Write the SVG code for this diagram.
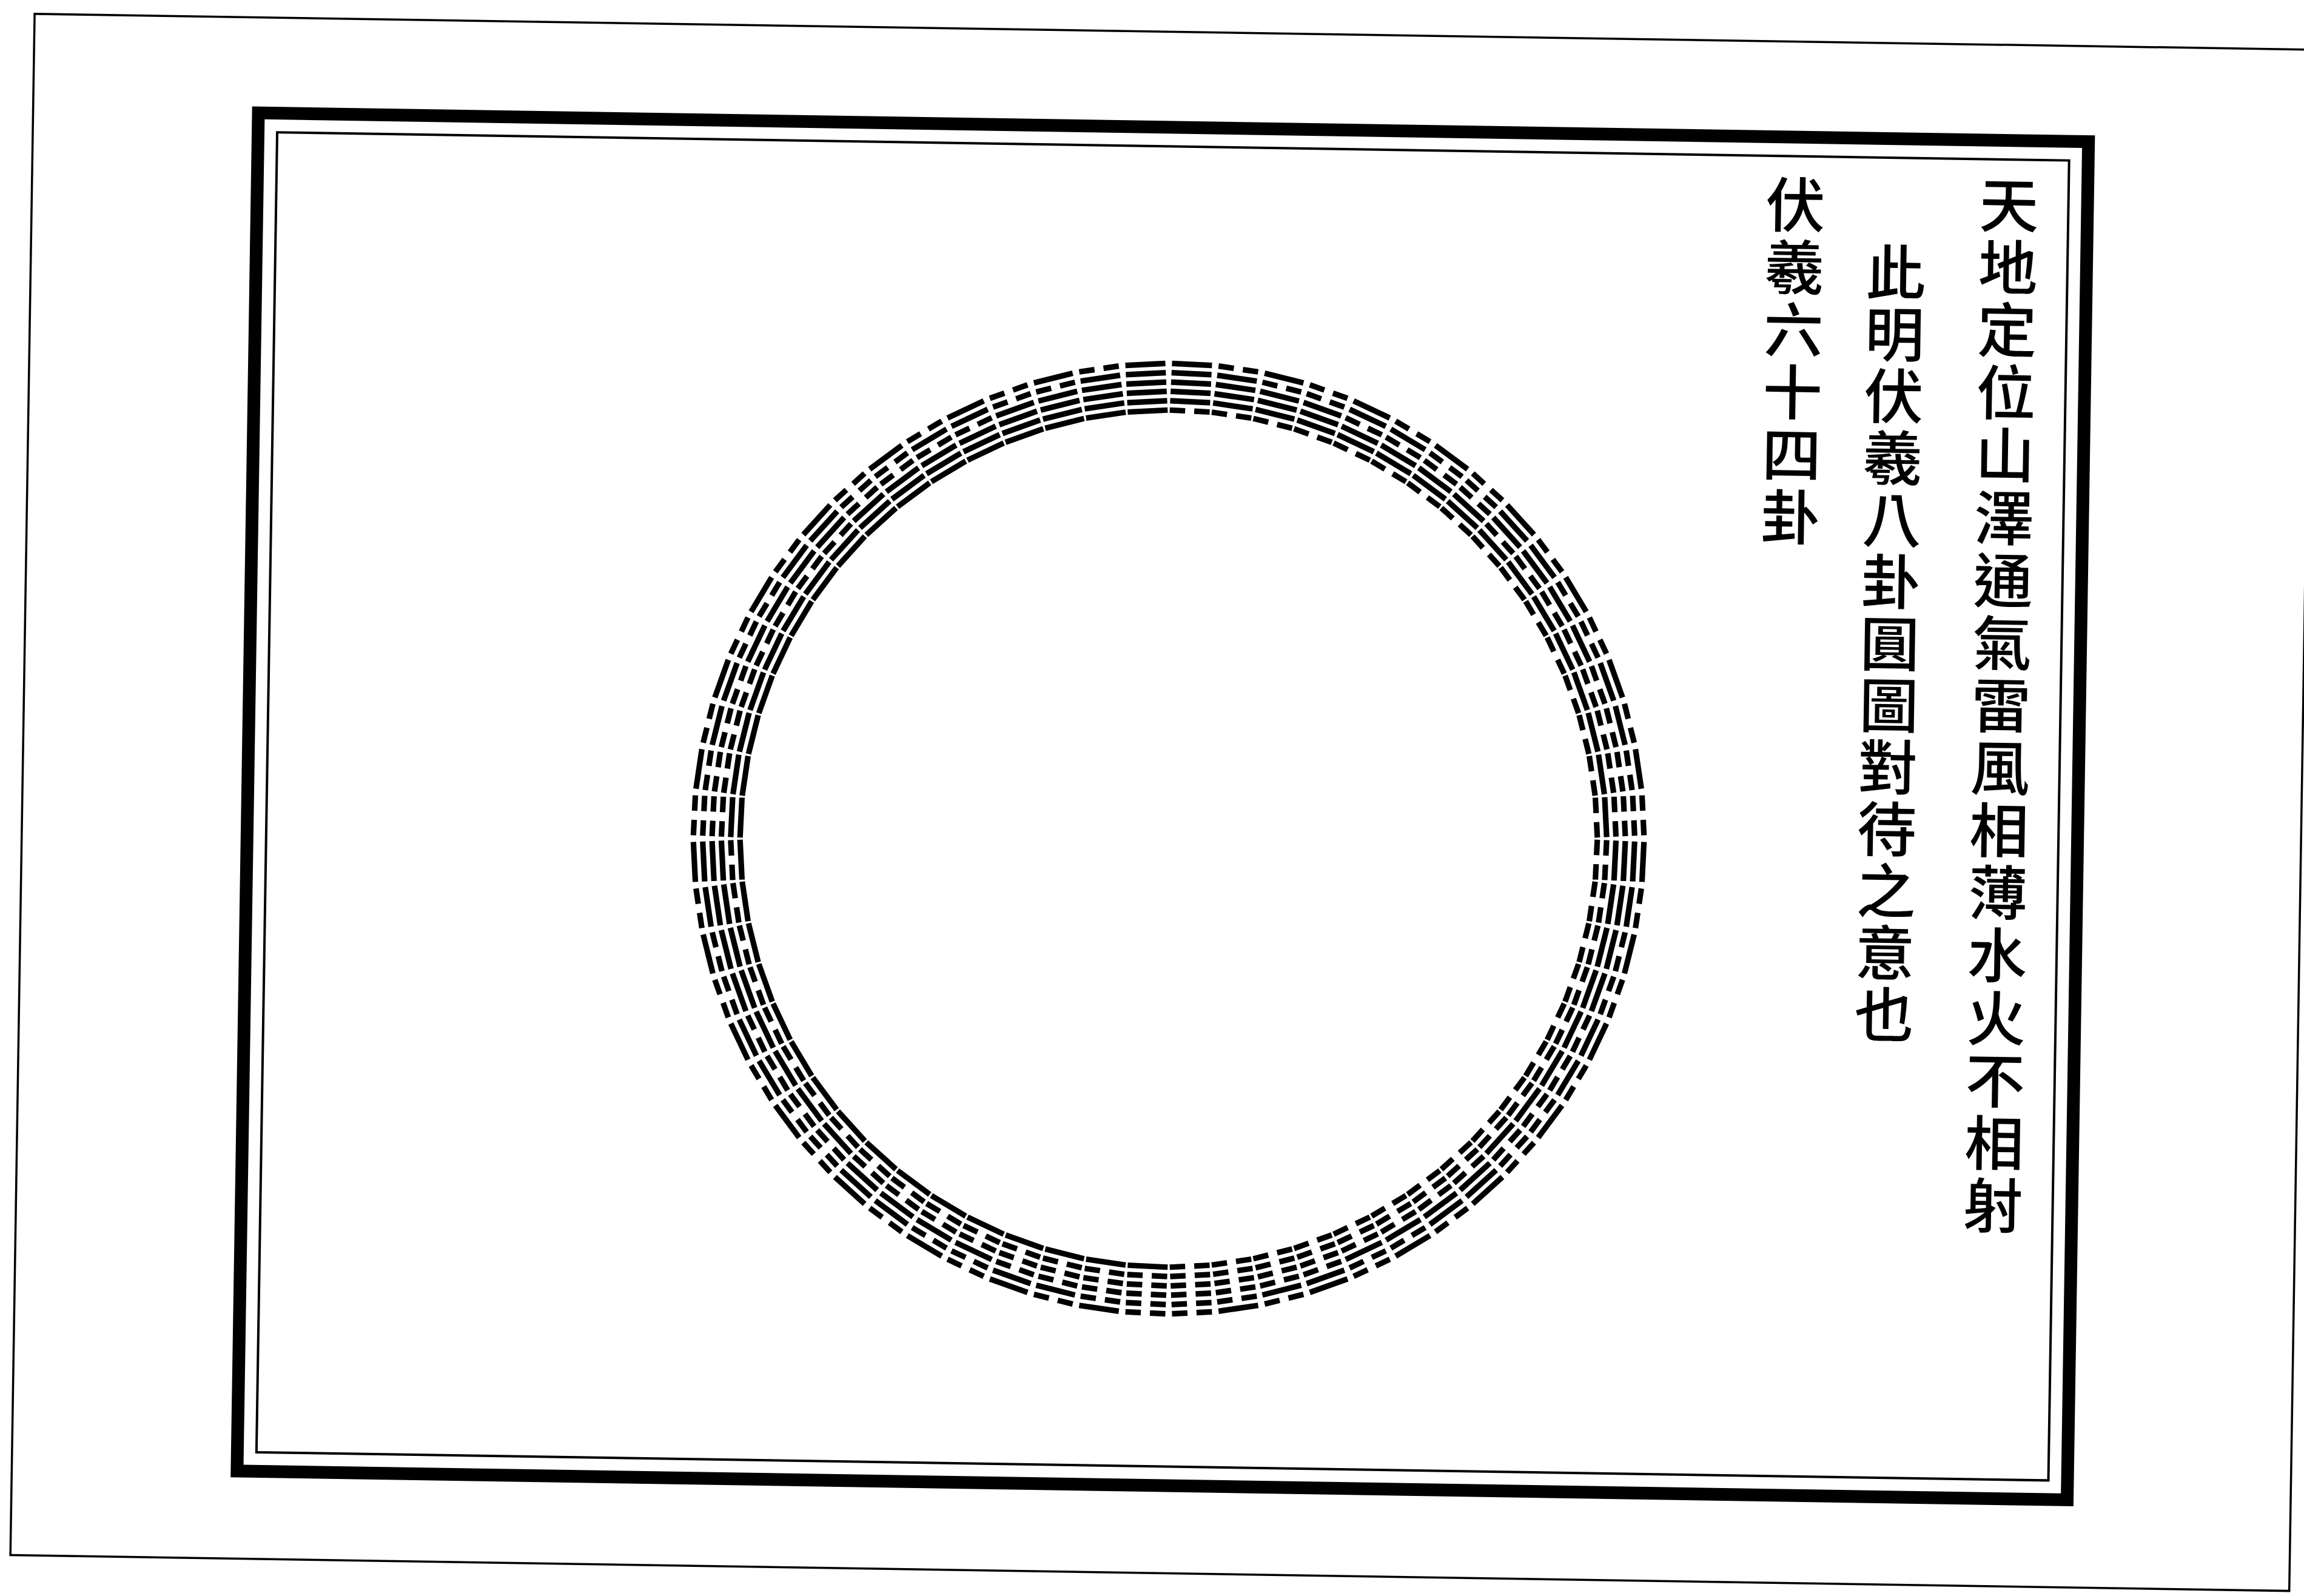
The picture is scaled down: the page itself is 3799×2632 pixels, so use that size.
<svg xmlns="http://www.w3.org/2000/svg" width="3799" height="2632" viewBox="0 0 3799 2632">
<style>
.ln{fill:none;stroke:#000;stroke-width:9.2}
.txt{font-family:"Noto Sans CJK TC","Noto Sans CJK SC",sans-serif;font-size:98px;font-weight:500;fill:#000;text-anchor:middle;dominant-baseline:central}
.page{fill:none;stroke:#000;stroke-width:3.5}
.frame{fill:none;stroke:#000;stroke-width:21}
.inner{fill:none;stroke:#000;stroke-width:4}
</style>
<defs>
<path id="a" d="M-33 0H33"/>
<path id="b" d="M-33 0H-7.5M7.5 0H33"/>
<g id="t0"><use href="#a"/><use href="#a" y="-15.4"/><use href="#a" y="-30.8"/></g>
<g id="t1"><use href="#a"/><use href="#a" y="-15.4"/><use href="#b" y="-30.8"/></g>
<g id="t2"><use href="#a"/><use href="#b" y="-15.4"/><use href="#a" y="-30.8"/></g>
<g id="t3"><use href="#a"/><use href="#b" y="-15.4"/><use href="#b" y="-30.8"/></g>
<g id="t4"><use href="#b"/><use href="#a" y="-15.4"/><use href="#a" y="-30.8"/></g>
<g id="t5"><use href="#b"/><use href="#a" y="-15.4"/><use href="#b" y="-30.8"/></g>
<g id="t6"><use href="#b"/><use href="#b" y="-15.4"/><use href="#a" y="-30.8"/></g>
<g id="t7"><use href="#b"/><use href="#b" y="-15.4"/><use href="#b" y="-30.8"/></g>
</defs>
<rect width="3799" height="2632" fill="#fff"/>
<g transform="rotate(0.9 1900 1316)">
<g id="page-border"><rect class="page" x="37" y="52" width="3758" height="2542"/></g>
<g id="frame"><rect class="frame" x="408.5" y="209.5" width="3018" height="2240"/><rect class="inner" x="440" y="241" width="2955" height="2177"/></g>
<g id="connectors"></g>
<g id="text-col-1"><text class="txt" x="3297 3297 3297 3297 3297 3297 3297 3297 3297 3297 3297 3297 3297 3297 3297 3297 3297" y="310 413 516 619 722 826 929 1032 1135 1238 1341 1444 1547 1651 1754 1857 1960">天地定位山澤通氣雷風相薄水火不相射</text></g>
<g id="text-col-2"><text class="txt" x="3112 3112 3112 3112 3112 3112 3112 3112 3112 3112 3112 3112 3112" y="424 526 628 730 832 934 1036 1138 1240 1342 1444 1546 1648">此明伏羲八卦圓圖對待之意也</text></g>
<g id="text-col-3"><text class="txt" x="2945 2945 2945 2945 2945 2945" y="315 418 521 624 727 830">伏羲六十四卦</text></g>
</g>
<g id="hexagram-circle" class="ln" transform="translate(1927 1383)">
<g id="hex-qian" transform="rotate(-2.8125)"><use href="#t0" y="-706"/><use href="#t0" y="-752.2"/></g>
<g id="hex-guai" transform="rotate(-8.4375)"><use href="#t0" y="-706"/><use href="#t1" y="-752.2"/></g>
<g id="hex-dayou" transform="rotate(-14.0625)"><use href="#t0" y="-706"/><use href="#t2" y="-752.2"/></g>
<g id="hex-dazhuang" transform="rotate(-19.6875)"><use href="#t0" y="-706"/><use href="#t3" y="-752.2"/></g>
<g id="hex-xiaoxu" transform="rotate(-25.3125)"><use href="#t0" y="-706"/><use href="#t4" y="-752.2"/></g>
<g id="hex-xu" transform="rotate(-30.9375)"><use href="#t0" y="-706"/><use href="#t5" y="-752.2"/></g>
<g id="hex-daxu" transform="rotate(-36.5625)"><use href="#t0" y="-706"/><use href="#t6" y="-752.2"/></g>
<g id="hex-tai" transform="rotate(-42.1875)"><use href="#t0" y="-706"/><use href="#t7" y="-752.2"/></g>
<g id="hex-lv" transform="rotate(-47.8125)"><use href="#t1" y="-706"/><use href="#t0" y="-752.2"/></g>
<g id="hex-dui" transform="rotate(-53.4375)"><use href="#t1" y="-706"/><use href="#t1" y="-752.2"/></g>
<g id="hex-kui" transform="rotate(-59.0625)"><use href="#t1" y="-706"/><use href="#t2" y="-752.2"/></g>
<g id="hex-guimei" transform="rotate(-64.6875)"><use href="#t1" y="-706"/><use href="#t3" y="-752.2"/></g>
<g id="hex-zhongfu" transform="rotate(-70.3125)"><use href="#t1" y="-706"/><use href="#t4" y="-752.2"/></g>
<g id="hex-jie" transform="rotate(-75.9375)"><use href="#t1" y="-706"/><use href="#t5" y="-752.2"/></g>
<g id="hex-sun" transform="rotate(-81.5625)"><use href="#t1" y="-706"/><use href="#t6" y="-752.2"/></g>
<g id="hex-lin" transform="rotate(-87.1875)"><use href="#t1" y="-706"/><use href="#t7" y="-752.2"/></g>
<g id="hex-tongren" transform="rotate(-92.8125)"><use href="#t2" y="-706"/><use href="#t0" y="-752.2"/></g>
<g id="hex-ge" transform="rotate(-98.4375)"><use href="#t2" y="-706"/><use href="#t1" y="-752.2"/></g>
<g id="hex-li" transform="rotate(-104.0625)"><use href="#t2" y="-706"/><use href="#t2" y="-752.2"/></g>
<g id="hex-feng" transform="rotate(-109.6875)"><use href="#t2" y="-706"/><use href="#t3" y="-752.2"/></g>
<g id="hex-jiaren" transform="rotate(-115.3125)"><use href="#t2" y="-706"/><use href="#t4" y="-752.2"/></g>
<g id="hex-jiji" transform="rotate(-120.9375)"><use href="#t2" y="-706"/><use href="#t5" y="-752.2"/></g>
<g id="hex-bi" transform="rotate(-126.5625)"><use href="#t2" y="-706"/><use href="#t6" y="-752.2"/></g>
<g id="hex-mingyi" transform="rotate(-132.1875)"><use href="#t2" y="-706"/><use href="#t7" y="-752.2"/></g>
<g id="hex-wuwang" transform="rotate(-137.8125)"><use href="#t3" y="-706"/><use href="#t0" y="-752.2"/></g>
<g id="hex-sui" transform="rotate(-143.4375)"><use href="#t3" y="-706"/><use href="#t1" y="-752.2"/></g>
<g id="hex-shihe" transform="rotate(-149.0625)"><use href="#t3" y="-706"/><use href="#t2" y="-752.2"/></g>
<g id="hex-zhen" transform="rotate(-154.6875)"><use href="#t3" y="-706"/><use href="#t3" y="-752.2"/></g>
<g id="hex-yi" transform="rotate(-160.3125)"><use href="#t3" y="-706"/><use href="#t4" y="-752.2"/></g>
<g id="hex-zhun" transform="rotate(-165.9375)"><use href="#t3" y="-706"/><use href="#t5" y="-752.2"/></g>
<g id="hex-yi-nourish" transform="rotate(-171.5625)"><use href="#t3" y="-706"/><use href="#t6" y="-752.2"/></g>
<g id="hex-fu" transform="rotate(-177.1875)"><use href="#t3" y="-706"/><use href="#t7" y="-752.2"/></g>
<g id="hex-gou" transform="rotate(2.8125)"><use href="#t4" y="-706"/><use href="#t0" y="-752.2"/></g>
<g id="hex-daguo" transform="rotate(8.4375)"><use href="#t4" y="-706"/><use href="#t1" y="-752.2"/></g>
<g id="hex-ding" transform="rotate(14.0625)"><use href="#t4" y="-706"/><use href="#t2" y="-752.2"/></g>
<g id="hex-heng" transform="rotate(19.6875)"><use href="#t4" y="-706"/><use href="#t3" y="-752.2"/></g>
<g id="hex-xun" transform="rotate(25.3125)"><use href="#t4" y="-706"/><use href="#t4" y="-752.2"/></g>
<g id="hex-jing" transform="rotate(30.9375)"><use href="#t4" y="-706"/><use href="#t5" y="-752.2"/></g>
<g id="hex-gu" transform="rotate(36.5625)"><use href="#t4" y="-706"/><use href="#t6" y="-752.2"/></g>
<g id="hex-sheng" transform="rotate(42.1875)"><use href="#t4" y="-706"/><use href="#t7" y="-752.2"/></g>
<g id="hex-song" transform="rotate(47.8125)"><use href="#t5" y="-706"/><use href="#t0" y="-752.2"/></g>
<g id="hex-kun-oppression" transform="rotate(53.4375)"><use href="#t5" y="-706"/><use href="#t1" y="-752.2"/></g>
<g id="hex-weiji" transform="rotate(59.0625)"><use href="#t5" y="-706"/><use href="#t2" y="-752.2"/></g>
<g id="hex-xie" transform="rotate(64.6875)"><use href="#t5" y="-706"/><use href="#t3" y="-752.2"/></g>
<g id="hex-huan" transform="rotate(70.3125)"><use href="#t5" y="-706"/><use href="#t4" y="-752.2"/></g>
<g id="hex-kan" transform="rotate(75.9375)"><use href="#t5" y="-706"/><use href="#t5" y="-752.2"/></g>
<g id="hex-meng" transform="rotate(81.5625)"><use href="#t5" y="-706"/><use href="#t6" y="-752.2"/></g>
<g id="hex-shi" transform="rotate(87.1875)"><use href="#t5" y="-706"/><use href="#t7" y="-752.2"/></g>
<g id="hex-dun" transform="rotate(92.8125)"><use href="#t6" y="-706"/><use href="#t0" y="-752.2"/></g>
<g id="hex-xian" transform="rotate(98.4375)"><use href="#t6" y="-706"/><use href="#t1" y="-752.2"/></g>
<g id="hex-lu" transform="rotate(104.0625)"><use href="#t6" y="-706"/><use href="#t2" y="-752.2"/></g>
<g id="hex-xiaoguo" transform="rotate(109.6875)"><use href="#t6" y="-706"/><use href="#t3" y="-752.2"/></g>
<g id="hex-jian" transform="rotate(115.3125)"><use href="#t6" y="-706"/><use href="#t4" y="-752.2"/></g>
<g id="hex-jian-obstruction" transform="rotate(120.9375)"><use href="#t6" y="-706"/><use href="#t5" y="-752.2"/></g>
<g id="hex-gen" transform="rotate(126.5625)"><use href="#t6" y="-706"/><use href="#t6" y="-752.2"/></g>
<g id="hex-qian-modesty" transform="rotate(132.1875)"><use href="#t6" y="-706"/><use href="#t7" y="-752.2"/></g>
<g id="hex-pi" transform="rotate(137.8125)"><use href="#t7" y="-706"/><use href="#t0" y="-752.2"/></g>
<g id="hex-cui" transform="rotate(143.4375)"><use href="#t7" y="-706"/><use href="#t1" y="-752.2"/></g>
<g id="hex-jin" transform="rotate(149.0625)"><use href="#t7" y="-706"/><use href="#t2" y="-752.2"/></g>
<g id="hex-yu" transform="rotate(154.6875)"><use href="#t7" y="-706"/><use href="#t3" y="-752.2"/></g>
<g id="hex-guan" transform="rotate(160.3125)"><use href="#t7" y="-706"/><use href="#t4" y="-752.2"/></g>
<g id="hex-bi-union" transform="rotate(165.9375)"><use href="#t7" y="-706"/><use href="#t5" y="-752.2"/></g>
<g id="hex-bo" transform="rotate(171.5625)"><use href="#t7" y="-706"/><use href="#t6" y="-752.2"/></g>
<g id="hex-kun" transform="rotate(177.1875)"><use href="#t7" y="-706"/><use href="#t7" y="-752.2"/></g>
</g>
</svg>
